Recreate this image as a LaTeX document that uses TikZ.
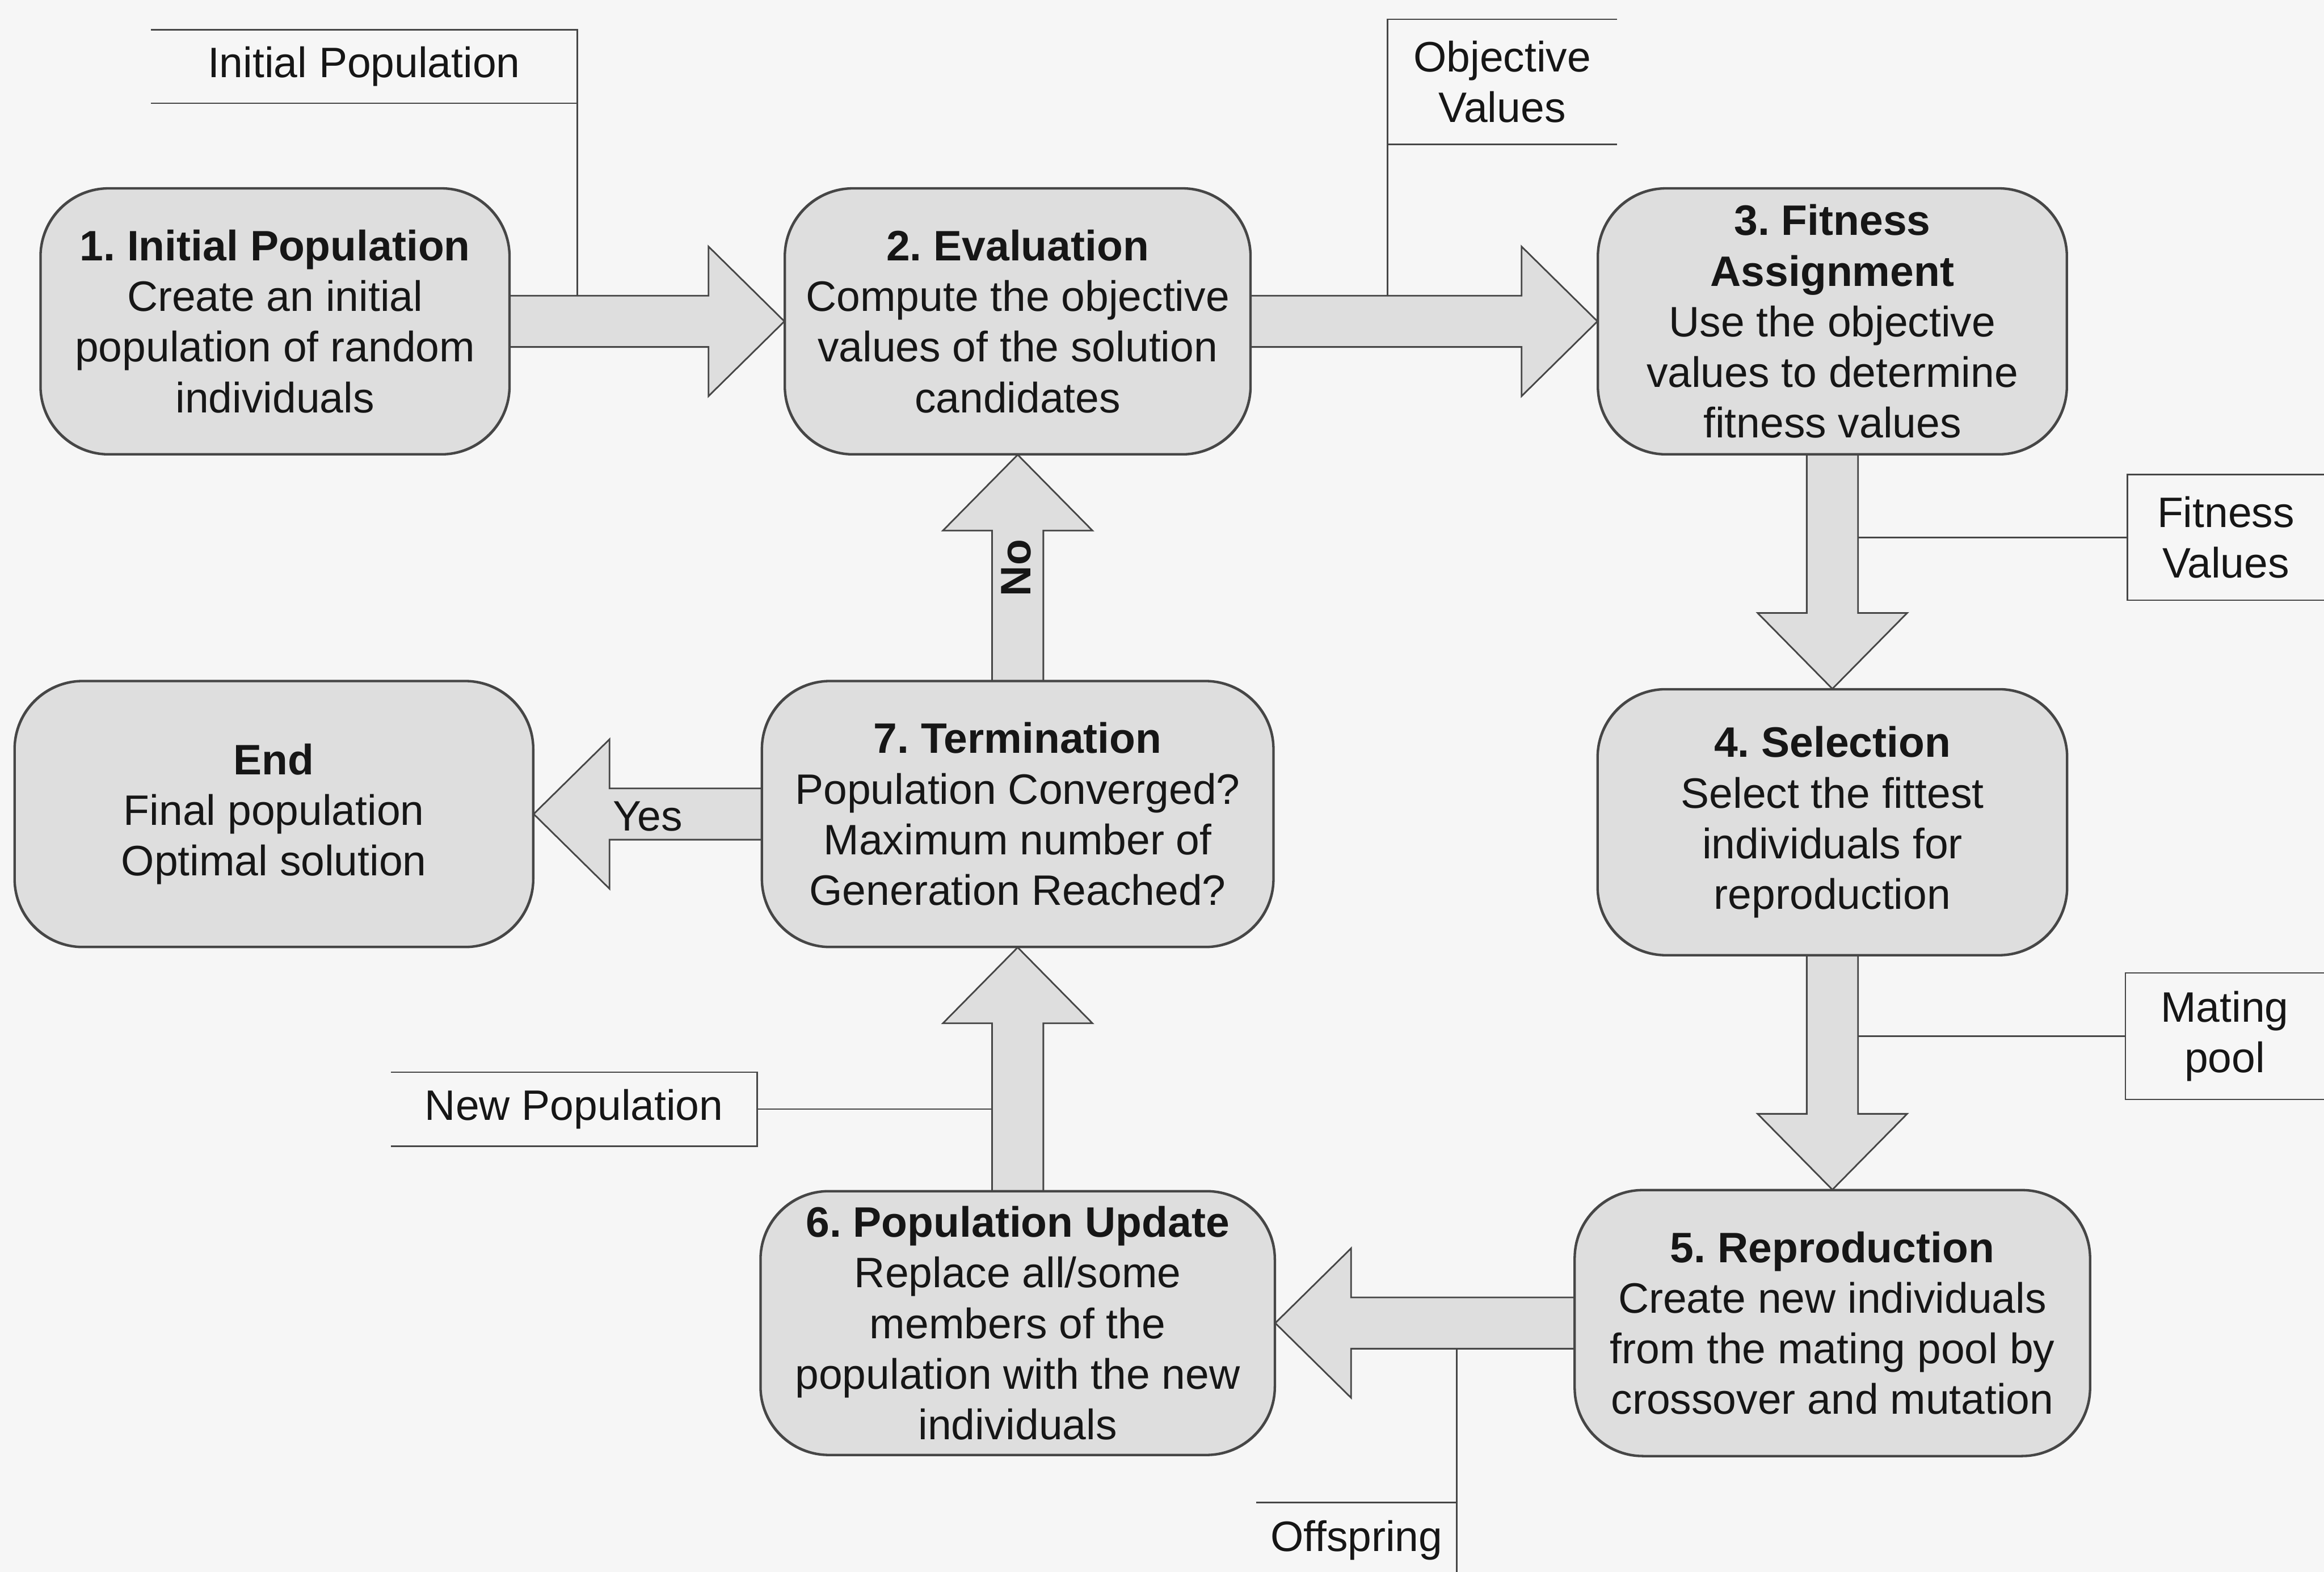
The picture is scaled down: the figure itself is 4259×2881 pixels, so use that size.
\documentclass[tikz,border=0pt]{standalone}
\usepackage{fontspec}
\setmainfont{Liberation Sans}
\usetikzlibrary{calc}
\frenchspacing

\definecolor{pagebg}{RGB}{246,246,246}
\definecolor{boxfill}{RGB}{222,222,222}
\definecolor{edgecol}{RGB}{70,70,70}
\definecolor{inkcol}{RGB}{22,22,22}

% block arrow geometry (in drawing units)
\newcommand\shaftw{47}
\newcommand\headw{137}
\newcommand\headl{139}

% block arrows: the shaft leaves box #1, the tip touches box #2
\newcommand\blockright[2]{%
  \draw[blockarrow] ($(#1.east)+(0,-\shaftw)$) -- ($(#2.west)+(-\headl,-\shaftw)$)
    -- ($(#2.west)+(-\headl,-\headw)$) -- (#2.west) -- ($(#2.west)+(-\headl,\headw)$)
    -- ($(#2.west)+(-\headl,\shaftw)$) -- ($(#1.east)+(0,\shaftw)$);}
\newcommand\blockleft[2]{%
  \draw[blockarrow] ($(#1.west)+(0,-\shaftw)$) -- ($(#2.east)+(\headl,-\shaftw)$)
    -- ($(#2.east)+(\headl,-\headw)$) -- (#2.east) -- ($(#2.east)+(\headl,\headw)$)
    -- ($(#2.east)+(\headl,\shaftw)$) -- ($(#1.west)+(0,\shaftw)$);}
\newcommand\blockdown[2]{%
  \draw[blockarrow] ($(#1.south)+(-\shaftw,0)$) -- ($(#2.north)+(-\shaftw,-\headl)$)
    -- ($(#2.north)+(-\headw,-\headl)$) -- (#2.north) -- ($(#2.north)+(\headw,-\headl)$)
    -- ($(#2.north)+(\shaftw,-\headl)$) -- ($(#1.south)+(\shaftw,0)$);}
\newcommand\blockup[2]{%
  \draw[blockarrow] ($(#1.north)+(-\shaftw,0)$) -- ($(#2.south)+(-\shaftw,\headl)$)
    -- ($(#2.south)+(-\headw,\headl)$) -- (#2.south) -- ($(#2.south)+(\headw,\headl)$)
    -- ($(#2.south)+(\shaftw,\headl)$) -- ($(#1.north)+(\shaftw,0)$);}

\begin{document}
\begin{tikzpicture}[x=0.05mm, y=-0.05mm,
  every node/.style={text=inkcol},
  txt/.style={font=\fontsize{11.1pt}{13.2pt}\selectfont},
  stage/.style={txt, draw=edgecol, fill=boxfill, line width=0.42pt,
    rounded corners=6.25mm, align=center, inner sep=0pt, minimum height=24.3mm},
  blockarrow/.style={draw=edgecol, fill=boxfill, line width=0.42pt, line join=miter},
  datalab/.style={txt, align=center, inner sep=0pt},
  labline/.style={draw=edgecol, line width=0.38pt}]

\fill[pagebg] (0,0) rectangle (4259,2881);
\useasboundingbox (0,0) rectangle (4259,2881);

% stages of the loop
\node[stage, minimum width=42.9mm]  (b1)  at (504,589)   {\textbf{1. Initial Population}\\Create an initial\\population of random\\individuals};
\node[stage, minimum width=42.6mm]  (b2)  at (1865,589)  {\textbf{2. Evaluation}\\Compute the objective\\values of the solution\\candidates};
\node[stage, minimum width=42.9mm]  (b3)  at (3358,589)  {\textbf{3. Fitness}\\\textbf{Assignment}\\Use the objective\\values to determine\\fitness values};
\node[stage, minimum width=42.95mm] (b4)  at (3358,1507) {\textbf{4. Selection}\\Select the fittest\\individuals for\\reproduction};
\node[stage, minimum width=47.15mm] (b5)  at (3358,2425) {\textbf{5. Reproduction}\\Create new individuals\\from the mating pool by\\crossover and mutation};
\node[stage, minimum width=47.05mm, minimum height=24.1mm] (b6) at (1865,2425) {\textbf{6. Population Update}\\Replace all/some\\members of the\\population with the new\\individuals};
\node[stage, minimum width=46.8mm]  (b7)  at (1865,1492) {\textbf{7. Termination}\\Population Converged?\\Maximum number of\\Generation Reached?};
\node[stage, minimum width=47.45mm] (end) at (502,1492)  {\textbf{End}\\Final population\\Optimal solution};

% flow between the stages
\blockright{b1}{b2}
\blockright{b2}{b3}
\blockdown{b3}{b4}
\blockdown{b4}{b5}
\blockleft{b5}{b6}
\blockup{b6}{b7}
\blockup{b7}{b2}
\blockleft{b7}{end}

% redraw the stage outlines over the arrow ends
\foreach \s in {b1,b2,b3,b4,b5,b6,b7,end}
  \draw[edgecol, line width=0.42pt, rounded corners=6.25mm] (\s.north west) rectangle (\s.south east);

\node[txt, font=\fontsize{11.1pt}{13.2pt}\selectfont\bfseries, rotate=90] (no) at (1862,1041) {No};
\node[txt] (yes) at (1187,1496) {Yes};

% attachment points on the arrow shafts
\coordinate (a12top)    at ($(b1.east)+(0,-\shaftw)$);
\coordinate (a23top)    at ($(b2.east)+(0,-\shaftw)$);
\coordinate (a34right)  at ($(b3.south)+(\shaftw,0)$);
\coordinate (a45right)  at ($(b4.south)+(\shaftw,0)$);
\coordinate (a56bottom) at ($(b5.west)+(0,\shaftw)$);
\coordinate (a67left)   at ($(b6.north)+(-\shaftw,0)$);
\coordinate (bottomedge) at (0,2881);

% data passed along the loop
\node[datalab, minimum width=38.95mm, minimum height=6.6mm]  (iplab)  at (667,122)    {Initial Population};
\node[datalab, minimum width=20.9mm,  minimum height=11.3mm] (ovlab)  at (2753,150)   {Objective\\Values};
\node[datalab, minimum width=17.9mm,  minimum height=11.35mm] (fvlab) at (4079,985)   {Fitness\\Values};
\node[datalab, minimum width=18.05mm, minimum height=11.45mm] (mplab) at (4077,1899)  {Mating\\pool};
\node[datalab, minimum width=33.4mm,  minimum height=6.65mm] (nplab)  at (1052,2033)  {New Population};
\node[datalab, minimum width=18.25mm, minimum height=6.8mm]  (ofslab) at (2486,2823)  {Offspring};

\draw[labline] (iplab.north west) -- (iplab.north east) -- (iplab.north east |- a12top);
\draw[labline] (iplab.south west) -- (iplab.south east);

\draw[labline] (ovlab.north east) -- (ovlab.north west) -- (ovlab.north west |- a23top);
\draw[labline] (ovlab.south west) -- (ovlab.south east);

\draw[labline] (fvlab.north east) -- (fvlab.north west) -- (fvlab.south west) -- (fvlab.south east);
\draw[labline] (fvlab.west) -- (fvlab.west -| a34right);

\draw[labline] (mplab.north east) -- (mplab.north west) -- (mplab.south west) -- (mplab.south east);
\draw[labline] (mplab.west) -- (mplab.west -| a45right);

\draw[labline] (nplab.north west) -- (nplab.north east) -- (nplab.south east) -- (nplab.south west);
\draw[labline] (nplab.east) -- (nplab.east -| a67left);

\draw[labline] (ofslab.north west) -- (ofslab.north east);
\draw[labline] (a56bottom -| ofslab.north east) -- (ofslab.north east |- bottomedge);

\end{tikzpicture}
\end{document}
